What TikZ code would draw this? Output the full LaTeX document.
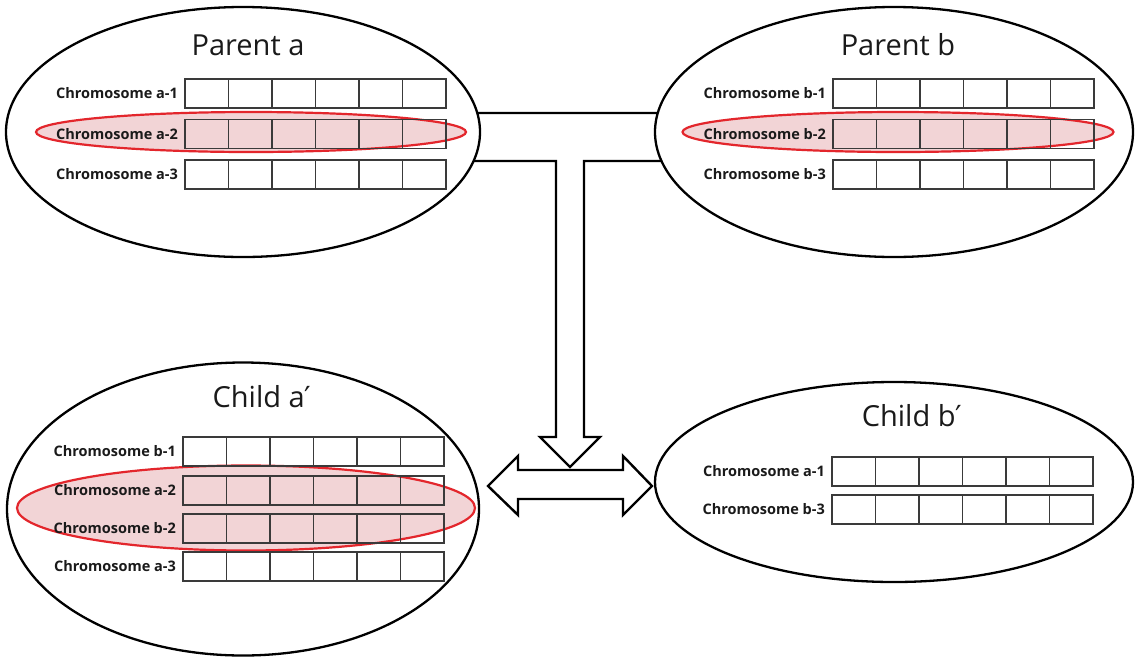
\documentclass[tikz,border=0pt]{standalone}
\usepackage{fontspec}
\setmainfont{Open Sans}
\newfontfamily\primefont{DejaVu Sans}
\usetikzlibrary{shapes.geometric}
\definecolor{selfill}{HTML}{F2D4D6}
\definecolor{selline}{HTML}{E3262C}
\definecolor{gridc}{HTML}{3A3A3A}
\definecolor{txt}{HTML}{1A1A1A}
\newcommand\chrow[4]{% name, x left, y top, label
  \node[lbl] (#1) at (#2-7,#3+14.5) {#4};
  \foreach \i in {0,...,5}{\draw[cell] (#2+\i*43.5,#3) rectangle ++(43.5,29);}
}
\begin{document}
\begin{tikzpicture}[x=1pt,y=-1pt,
  big/.style={ellipse,draw=black,line width=2.3pt,fill=white,inner sep=0pt},
  sel/.style={ellipse,draw=selline,line width=2.2pt,fill=selfill,inner sep=0pt},
  title/.style={font=\fontsize{29}{32}\selectfont,text=txt,inner sep=0pt},
  lbl/.style={font=\fontsize{14.5}{16}\selectfont\bfseries,text=txt,anchor=east,inner sep=0pt},
  cell/.style={draw=gridc,line width=1.9pt},
  conn/.style={draw=black,line width=2.4pt,fill=white,line join=miter}]
\useasboundingbox (0,0) rectangle (1136,657);
% connectors (drawn first, ellipses cover their ends)
\coordinate (ta) at (470,113);
\coordinate (tb) at (670,113);
\draw[conn] (ta) -- (tb) -- (670,161) -- (584,161) -- (584,437) -- (600,437) -- (570,467) -- (540,437) -- (556,437) -- (556,161) -- (470,161);
% ellipses
\node[big,minimum width=474pt,minimum height=250pt] (pa) at (243,132) {};
\node[big,minimum width=478pt,minimum height=250pt] (pb) at (894,132) {};
\node[big,minimum width=472pt,minimum height=293pt] (ca) at (243,509) {};
\node[big,minimum width=478pt,minimum height=200pt] (cb) at (894,482) {};
% double arrow between children
\draw[conn] (488,486) -- (518,456) -- (518,470) -- (623,470) -- (623,456) -- (652,486) -- (623,515) -- (623,499) -- (518,499) -- (518,515) -- cycle;
% titles
\node[title] (pat) at (248,45) {Parent a};
\node[title] (pbt) at (898,45) {Parent b};
\node[title] (cat) at (262,397) {Child a{\primefont ′}};
\node[title] (cbt) at (912,416) {Child b{\primefont ′}};
% selections
\node[sel,minimum width=430pt,minimum height=40pt] (pas) at (251,132) {};
\node[sel,minimum width=431pt,minimum height=40pt] (pbs) at (898,132) {};
\node[sel,minimum width=458pt,minimum height=85pt] (cas) at (246,508) {};
% chromosome rows
\chrow{pa1}{185}{79}{Chromosome a-1}
\chrow{pa2}{185}{119.5}{Chromosome a-2}
\chrow{pa3}{185}{160}{Chromosome a-3}
\chrow{pb1}{833}{79}{Chromosome b-1}
\chrow{pb2}{833}{119.5}{Chromosome b-2}
\chrow{pb3}{833}{160}{Chromosome b-3}
\chrow{ca1}{183}{437}{Chromosome b-1}
\chrow{ca2}{183}{476}{Chromosome a-2}
\chrow{ca3}{183}{514}{Chromosome b-2}
\chrow{ca4}{183}{552}{Chromosome a-3}
\chrow{cb1}{832}{457}{Chromosome a-1}
\chrow{cb2}{832}{495}{Chromosome b-3}
\end{tikzpicture}
\end{document}
